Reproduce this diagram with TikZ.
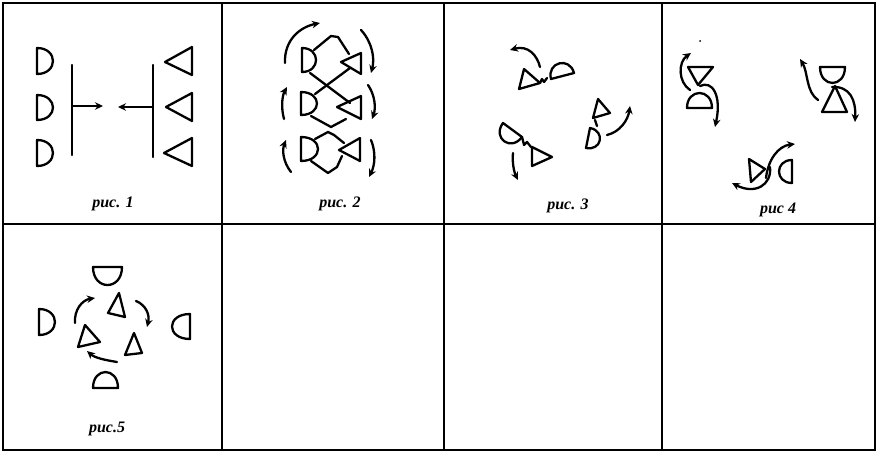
\documentclass[tikz,border=0pt]{standalone}
\usepackage{fontspec}
\setmainfont{Liberation Serif}
\usetikzlibrary{arrows.meta}
\tikzset{
  gridline/.style={line width=1.6pt},
  shp/.style={line width=2.3pt, line join=round, line cap=round},
  arr/.style={shp, -{Stealth[length=8pt,width=7.5pt]}},
  lbl/.style={font=\fontsize{16}{16}\selectfont\bfseries\itshape, inner sep=0pt}
}
\begin{document}
\begin{tikzpicture}[x=1pt,y=-1pt]
\useasboundingbox (0,0) rectangle (878,452);
% grid
\draw[gridline] (3,3) rectangle (875,450);
\draw[gridline] (222,3) -- (222,450);
\draw[gridline] (444,3) -- (444,450);
\draw[gridline] (662,3) -- (662,450);
\draw[gridline] (3,224) -- (875,224);

% ---------- panel 1 ----------
\draw[shp] (37,48) .. controls (58.3,48) and (58.3,74) .. (37,74) -- cycle;
\draw[shp] (37,95) .. controls (58.3,95) and (58.3,120) .. (37,120) -- cycle;
\draw[shp] (37,140) .. controls (58.3,140) and (58.3,166) .. (37,166) -- cycle;
\draw[shp] (72,65) -- (72,155);
\draw[shp] (153,65) -- (153,157);
\draw[arr] (72,106) -- (103,106);
\draw[arr] (153,107) -- (118,107);
\draw[shp] (192,47) -- (192,75) -- (165,62) -- cycle;
\draw[shp] (192,93) -- (192,121) -- (166,107) -- cycle;
\draw[shp] (192,138) -- (192,166) -- (164,153) -- cycle;
\node[lbl] (l1) at (113,204) {рис. 1};

% ---------- panel 2 ----------
\draw[shp] (302,48) .. controls (320.7,48) and (320.7,72) .. (302,72) -- cycle;
\draw[shp] (301,92) .. controls (322.3,92) and (322.3,115) .. (301,115) -- cycle;
\draw[shp] (301,137) .. controls (323.7,137) and (323.7,161) .. (301,161) -- cycle;
\draw[shp] (361,53) -- (361,74) -- (341,62) -- cycle;
\draw[shp] (361,96) -- (361,119) -- (337,107) -- cycle;
\draw[shp] (360,138) -- (360,161) -- (339,150) -- cycle;
\draw[shp] (314,50) -- (331,36) -- (338,37) -- (349,54);
\draw[shp] (310,73) -- (350,103);
\draw[shp] (350,68) -- (315,94);
\draw[shp] (311,116) -- (331,127) -- (346,119);
\draw[shp] (315,139) -- (328,132) -- (334,135) -- (344,143);
\draw[shp] (311,161) -- (328,173) -- (337,167) -- (342,156);
\draw[arr] (285,63) .. controls (284,40) and (300,27) .. (320,23);
\draw[arr] (361,30) .. controls (372,42) and (375,58) .. (371,73);
\draw[arr] (284,119) .. controls (281,108) and (282,96) .. (287,87);
\draw[arr] (368,85) .. controls (375,95) and (376,108) .. (372,119);
\draw[arr] (291,172) .. controls (283,162) and (282,150) .. (286,140);
\draw[arr] (371,140) .. controls (376,152) and (375,165) .. (369,177);
\node[lbl] (l2) at (340,204) {рис. 2};

% ---------- panel 3 ----------
\draw[shp] (519,89) -- (524,69) -- (540,83) -- cycle;
\draw[shp] (540,83) -- (542,79) -- (544,82) -- (547,78);
\draw[shp] (551,79) .. controls (546.6,62.2) and (569.6,56.2) .. (574,73) -- cycle;
\draw[arr] (540,67) .. controls (537,55) and (528,45) .. (510,50);
\draw[shp] (593,118) -- (598,99) -- (610,113) -- cycle;
\draw[shp] (595,120) -- (597,126);
\draw[shp] (586,148) .. controls (601.7,151.1) and (605.7,131.1) .. (590,128) -- cycle;
\draw[arr] (607,135) .. controls (620,132) and (628,120) .. (630,106);
\draw[shp] (503,123) .. controls (491.9,138) and (510.9,152) .. (522,137) -- cycle;
\draw[shp] (522,137) -- (524,145) -- (527,142) -- (531,147);
\draw[shp] (532,147) -- (532,166) -- (552,157) -- cycle;
\draw[arr] (513,153) .. controls (512,162) and (514,172) .. (518,180);
\node[lbl] (l3) at (568,206) {рис. 3};

% ---------- panel 4 ----------
\fill (700,41) circle (1pt);
\draw[shp] (688,67) -- (713,67) -- (698,85) -- cycle;
\draw[shp] (687,108) .. controls (687,88) and (712,88) .. (712,108) -- cycle;
\draw[arr] (690,90) .. controls (678,82) and (678,62) .. (691,53);
\draw[arr] (700,86) .. controls (712,80) and (722,95) .. (715,127);
\draw[shp] (820,67) .. controls (820,88.3) and (845,88.3) .. (845,67) -- cycle;
\draw[shp] (835,86) -- (822,112) -- (847,112) -- cycle;
\draw[arr] (818,100) .. controls (806,92) and (808,72) .. (800,59);
\draw[arr] (832,87) .. controls (850,86) and (856,100) .. (855,122);
\draw[shp] (749,159) -- (751,182) -- (765,169) -- cycle;
\draw[shp] (792,160) .. controls (774.7,160) and (774.7,183) .. (792,183) -- cycle;
\draw[arr] (766,178) .. controls (768,160) and (778,146) .. (795,144);
\draw[arr] (770,167) .. controls (772,185) and (755,195) .. (732,183);
\node[lbl] (l4) at (778,210) {рис 4};

% ---------- panel 5 ----------
\draw[shp] (93,267) .. controls (93,291) and (122,291) .. (122,267) -- cycle;
\draw[shp] (108,313) -- (119,293) -- (125,317) -- cycle;
\draw[shp] (78,347) -- (85,325) -- (100,342) -- cycle;
\draw[shp] (125,355) -- (134,333) -- (142,353) -- cycle;
\draw[shp] (93,388) .. controls (93,366.7) and (118,366.7) .. (118,388) -- cycle;
\draw[shp] (39,309) .. controls (60.3,309) and (60.3,335) .. (39,335) -- cycle;
\draw[shp] (190,314) .. controls (166,314) and (166,339) .. (190,339) -- cycle;
\draw[arr] (75,323) .. controls (74,310) and (82,300) .. (95,298);
\draw[arr] (136,301) .. controls (146,305) and (150,315) .. (147,327);
\draw[arr] (117,362) .. controls (105,360) and (95,358) .. (87,351);
\node[lbl] (l5) at (107,429) {рис.5};
\end{tikzpicture}
\end{document}
